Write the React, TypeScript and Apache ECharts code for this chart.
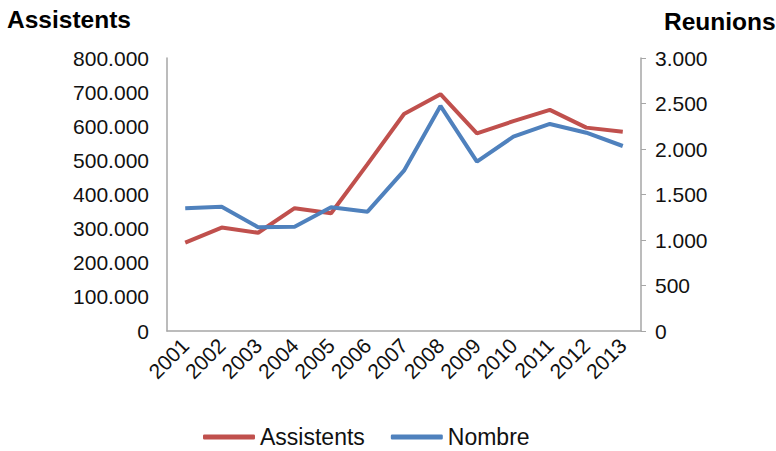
import React, { useEffect, useRef } from "react";
import * as echarts from "echarts";

const years = ["2001","2002","2003","2004","2005","2006","2007","2008","2009","2010","2011","2012","2013"];
const assistents = [259000, 303000, 288000, 360000, 345000, 489000, 636000, 694000, 579000, 615000, 648000, 596000, 584000];
const nombre = [1348, 1366, 1140, 1146, 1359, 1311, 1762, 2473, 1861, 2135, 2275, 2179, 2033];

const fmt = (v: number) => String(Math.round(v)).replace(/\B(?=(\d{3})+(?!\d))/g, ".");

export default function App() {
  const ref = useRef<HTMLDivElement>(null);
  useEffect(() => {
    const chart = echarts.init(ref.current!, null, { renderer: "svg" });
    const font = "Liberation Sans, Arial, sans-serif";
    chart.setOption({
      animation: false,
      textStyle: { fontFamily: font },
      grid: { left: 167, right: 135, top: 58, bottom: 120 },
      graphic: [
        { type: "text", left: 7, top: 7, style: { text: "Assistents", font: `bold 24.5px ${font}`, fill: "#000" } },
        { type: "text", left: 664, top: 9, style: { text: "Reunions", font: `bold 24.5px ${font}`, fill: "#000" } },
      ],
      legend: {
        left: 198,
        top: 419,
        itemWidth: 52,
        itemHeight: 5,
        itemGap: 26,
        icon: "roundRect",
        textStyle: { fontSize: 23, color: "#111", fontFamily: font, lineHeight: 26 },
        data: ["Assistents", "Nombre"],
      },
      xAxis: {
        type: "category",
        data: years,
        boundaryGap: true,
        axisLine: { lineStyle: { color: "#A6A6A6", width: 1.5 } },
        axisTick: { show: false },
        axisLabel: { rotate: 45, fontSize: 21, color: "#111", margin: 11, interval: 0, fontFamily: font },
      },
      yAxis: [
        {
          type: "value",
          min: 0,
          max: 800000,
          interval: 100000,
          splitLine: { show: false },
          axisLine: { show: true, lineStyle: { color: "#A6A6A6", width: 1.5 } },
          axisTick: { show: false },
          axisLabel: { formatter: fmt, fontSize: 21, color: "#111", margin: 18, fontFamily: font },
        },
        {
          type: "value",
          min: 0,
          max: 3000,
          interval: 500,
          position: "right",
          splitLine: { show: false },
          axisLine: { show: true, lineStyle: { color: "#A6A6A6", width: 1.5 } },
          axisTick: { show: true, length: 5, lineStyle: { color: "#A6A6A6" } },
          axisLabel: { formatter: fmt, fontSize: 21, color: "#111", margin: 14, fontFamily: font },
        },
      ],
      series: [
        {
          name: "Assistents",
          type: "line",
          data: assistents,
          yAxisIndex: 0,
          symbol: "none",
          lineStyle: { color: "#C0504D", width: 4 },
          itemStyle: { color: "#C0504D" },
        },
        {
          name: "Nombre",
          type: "line",
          data: nombre,
          yAxisIndex: 1,
          symbol: "none",
          lineStyle: { color: "#4F81BD", width: 4 },
          itemStyle: { color: "#4F81BD" },
        },
      ],
    });
    return () => chart.dispose();
  }, []);
  return <div ref={ref} style={{ width: 776, height: 451, position: "absolute", left: 0, top: 0, background: "#fff" }} />;
}
